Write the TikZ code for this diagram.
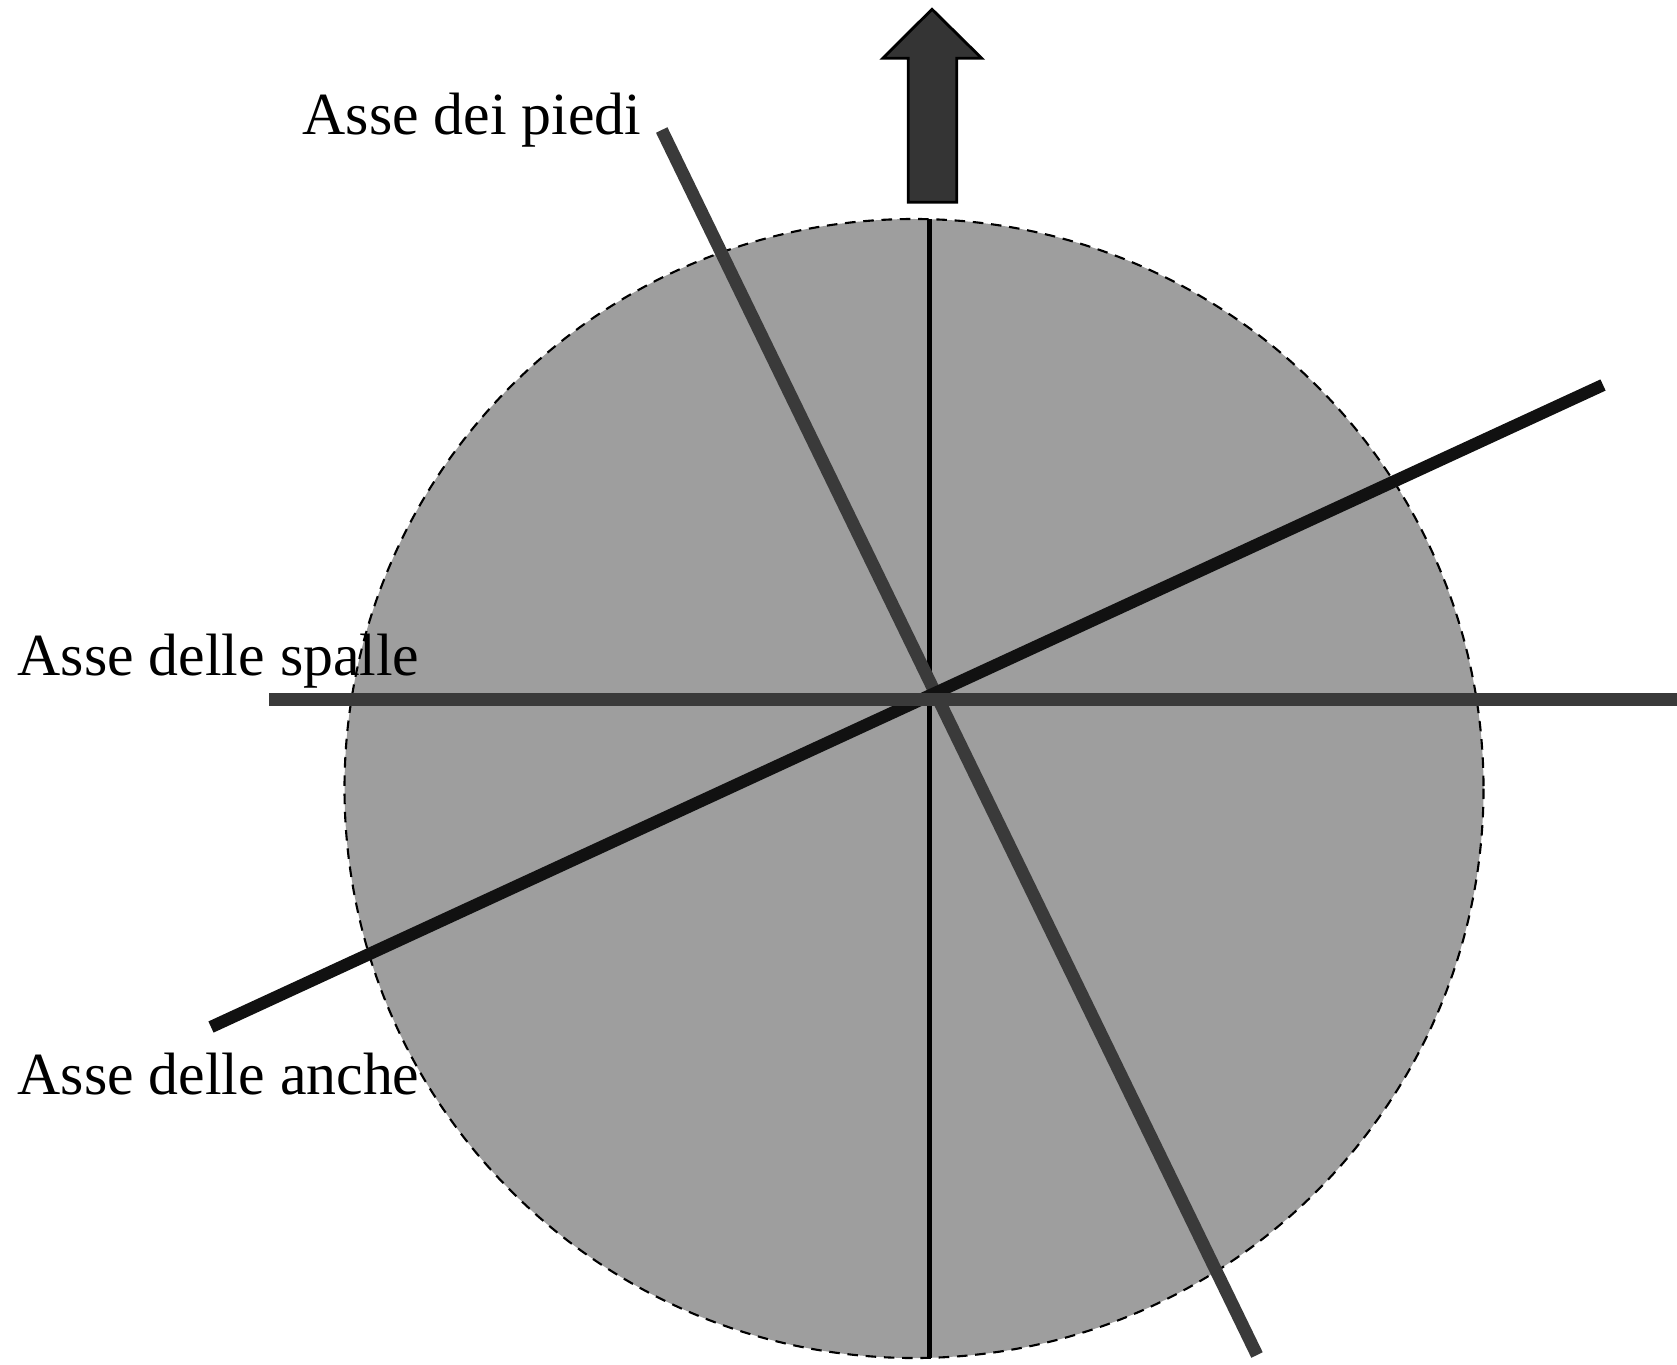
\documentclass[tikz,border=0pt]{standalone}
\usepackage{fontspec}
\setmainfont{Liberation Serif}
\definecolor{discgray}{HTML}{9E9E9E}
\definecolor{axisgray}{HTML}{3A3A3A}
\definecolor{axisdark}{HTML}{111111}
\begin{document}
\begin{tikzpicture}[x=0.01cm, y=-0.01cm,
			label/.style={anchor=base west, inner sep=0pt, font=\fontsize{17}{20}\selectfont},
			axis/.style={line width=3.6pt, color=axisgray},
			hipaxis/.style={line width=3.5pt, color=axisdark},
			midline/.style={line width=1.6pt, color=black},
			disc/.style={fill=discgray, draw=black, line width=0.6pt, dash pattern=on 3pt off 2.2pt}
		]
			\useasboundingbox (0,0) rectangle (1677,1364);

			\draw[disc] (914,788.5) circle [radius=569.5];

			\coordinate (mtop) at (929.3,219);
			\coordinate (mbot) at (929.3,1358);
			\coordinate (ftop) at (661.7,130);
			\coordinate (fbot) at (1257,1355);
			\coordinate (hleft) at (211,1027);
			\coordinate (hright) at (1603,385);
			\coordinate (sleft) at (269,699.5);
			\coordinate (sright) at (1677,699.5);

			\draw[midline] (mtop) -- (mbot);
			\draw[axis] (ftop) -- (fbot);
			\draw[hipaxis] (hleft) -- (hright);
			\draw[axis, line width=3.8pt] (sleft) -- (sright);

			% direction of walking
			\draw[fill=axisgray!90!black, draw=black, line width=0.8pt, line join=miter]
				(932,9.3) -- (981.7,58.3) -- (956.7,58.3) -- (956.7,202.3)
				-- (908.3,202.3) -- (908.3,58.3) -- (882.7,58.3) -- cycle;

			\node[label] (piedi) at (302,135) {Asse dei piedi};
			\node[label] (spalle) at (17,675) {Asse delle spalle};
			\node[label] (anche) at (17,1094) {Asse delle anche};
		\end{tikzpicture}
\end{document}
